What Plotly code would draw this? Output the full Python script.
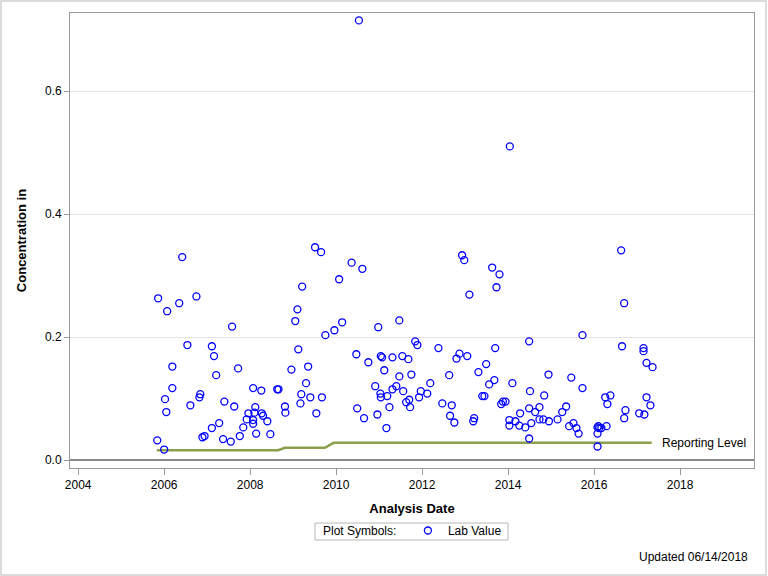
import plotly.graph_objects as go

# Lab values: analysis date (decimal year) and concentration
sample_year = [
    2005.84, 2005.86, 2006.00, 2006.02, 2006.05, 2006.07, 2006.19, 2006.19, 2006.35, 2006.42,
    2006.54, 2006.61, 2006.75, 2006.82, 2006.84, 2006.89, 2006.94, 2007.11, 2007.11, 2007.16,
    2007.21, 2007.28, 2007.37, 2007.40, 2007.55, 2007.58, 2007.63, 2007.72, 2007.76, 2007.84,
    2007.92, 2007.96, 2008.07, 2008.07, 2008.07, 2008.10, 2008.12, 2008.14, 2008.26, 2008.27,
    2008.30, 2008.40, 2008.47, 2008.63, 2008.66, 2008.81, 2008.82, 2008.96, 2009.05, 2009.10,
    2009.12, 2009.17, 2009.19, 2009.21, 2009.30, 2009.35, 2009.40, 2009.51, 2009.54, 2009.65,
    2009.67, 2009.75, 2009.96, 2010.07, 2010.14, 2010.36, 2010.47, 2010.49, 2010.53, 2010.61,
    2010.65, 2010.75, 2010.91, 2010.96, 2010.98, 2011.03, 2011.04, 2011.07, 2011.04, 2011.12,
    2011.17, 2011.19, 2011.24, 2011.31, 2011.31, 2011.40, 2011.47, 2011.47, 2011.54, 2011.56,
    2011.63, 2011.68, 2011.70, 2011.72, 2011.75, 2011.84, 2011.89, 2011.93, 2011.97, 2012.12,
    2012.19, 2012.38, 2012.47, 2012.63, 2012.65, 2012.69, 2012.75, 2012.80, 2012.87, 2012.93,
    2012.98, 2013.05, 2013.10, 2013.19, 2013.21, 2013.31, 2013.40, 2013.45, 2013.49, 2013.56,
    2013.63, 2013.68, 2013.70, 2013.73, 2013.80, 2013.84, 2013.88, 2013.94, 2014.03, 2014.03,
    2014.04, 2014.10, 2014.17, 2014.26, 2014.28, 2014.40, 2014.49, 2014.49, 2014.49, 2014.51,
    2014.54, 2014.63, 2014.73, 2014.73, 2014.82, 2014.84, 2014.94, 2014.95, 2015.15, 2015.26,
    2015.35, 2015.42, 2015.47, 2015.52, 2015.59, 2015.64, 2015.73, 2015.73, 2016.08, 2016.08,
    2016.08, 2016.10, 2016.12, 2016.17, 2016.26, 2016.29, 2016.31, 2016.38, 2016.63, 2016.65,
    2016.70, 2016.70, 2016.73, 2017.05, 2017.15, 2017.15, 2017.17, 2017.22, 2017.22, 2017.31,
    2017.36,
]
sample_value = [
    0.032, 0.263, 0.017, 0.099, 0.078, 0.242, 0.152, 0.117, 0.255, 0.330,
    0.187, 0.089, 0.266, 0.102, 0.107, 0.037, 0.039, 0.185, 0.052, 0.169,
    0.138, 0.060, 0.034, 0.095, 0.030, 0.217, 0.087, 0.149, 0.039, 0.053,
    0.066, 0.076, 0.117, 0.065, 0.059, 0.077, 0.086, 0.043, 0.113, 0.076,
    0.072, 0.063, 0.042, 0.115, 0.115, 0.087, 0.077, 0.147, 0.226, 0.245,
    0.180, 0.092, 0.107, 0.282, 0.125, 0.152, 0.102, 0.346, 0.076, 0.338,
    0.102, 0.203, 0.211, 0.294, 0.224, 0.321, 0.172, 0.084, 0.715, 0.311,
    0.068, 0.159, 0.120, 0.074, 0.216, 0.108, 0.169, 0.167, 0.102, 0.146,
    0.052, 0.104, 0.086, 0.167, 0.115, 0.120, 0.227, 0.136, 0.169, 0.112,
    0.094, 0.164, 0.098, 0.086, 0.139, 0.193, 0.187, 0.102, 0.112, 0.108,
    0.125, 0.182, 0.092, 0.138, 0.072, 0.089, 0.061, 0.165, 0.173, 0.333,
    0.325, 0.169, 0.269, 0.063, 0.068, 0.143, 0.104, 0.104, 0.156, 0.123,
    0.313, 0.130, 0.182, 0.281, 0.302, 0.091, 0.095, 0.095, 0.065, 0.056,
    0.510, 0.125, 0.063, 0.056, 0.076, 0.053, 0.193, 0.084, 0.035, 0.112,
    0.060, 0.078, 0.086, 0.066, 0.066, 0.105, 0.139, 0.063, 0.066, 0.078,
    0.087, 0.055, 0.134, 0.060, 0.052, 0.043, 0.203, 0.117, 0.053, 0.043,
    0.022, 0.055, 0.052, 0.052, 0.102, 0.055, 0.091, 0.105, 0.341, 0.185,
    0.255, 0.068, 0.081, 0.076, 0.182, 0.177, 0.074, 0.158, 0.102, 0.089,
    0.151,
]

# Reporting level step line
report_year = [2005.83, 2008.65, 2008.81, 2009.74, 2009.94, 2017.34]
report_value = [0.016, 0.016, 0.020, 0.020, 0.028, 0.028]

x_ticks = [2004, 2006, 2008, 2010, 2012, 2014, 2016, 2018]
y_ticks = [0.0, 0.2, 0.4, 0.6]

FONT = "Liberation Sans, Arial, sans-serif"

fig = go.Figure()

fig.add_trace(go.Scatter(
    x=report_year, y=report_value, mode="lines",
    line=dict(color="#8BA04A", width=2.5),
    showlegend=False, hoverinfo="skip",
))

fig.add_trace(go.Scatter(
    x=sample_year, y=sample_value, mode="markers", name="Lab Value",
    marker=dict(symbol="circle-open", size=7, color="#0000FF",
                line=dict(width=1.3, color="#0000FF")),
))

fig.add_annotation(
    x=report_year[-1], y=report_value[-1], text="Reporting Level",
    showarrow=False, xanchor="left", yanchor="middle", xshift=8,
    font=dict(family=FONT, size=12, color="#000000"),
)

fig.add_annotation(
    xref="paper", yref="paper", x=0.994, y=-0.1956, text="Updated 06/14/2018",
    showarrow=False, xanchor="right", yanchor="middle",
    font=dict(family=FONT, size=12, color="#000000"),
)

fig.add_annotation(
    xref="paper", yref="paper", x=0.367, y=-0.1385, text="Plot Symbols:",
    showarrow=False, xanchor="left", yanchor="middle",
    font=dict(family=FONT, size=12, color="#000000"),
)

# outer border around the whole image
fig.add_shape(
    type="rect", xref="paper", yref="paper",
    x0=-0.1009, x1=1.0175, y0=-0.2352, y1=1.0264,
    line=dict(color="#D0D0D0", width=1.5), layer="below",
)

# legend frame
fig.add_shape(
    type="rect", xref="paper", yref="paper",
    x0=0.3582, x1=0.6404, y0=-0.1582, y1=-0.1209,
    line=dict(color="#B8B8B8", width=1), layer="below",
)

fig.update_layout(
    width=768, height=576,
    margin=dict(l=70, r=14, t=13, b=108),
    paper_bgcolor="white", plot_bgcolor="white",
    font=dict(family=FONT, size=12, color="#000000"),
    legend=dict(
        orientation="h", x=0.494, xanchor="left", y=-0.1055, yanchor="top",
        borderwidth=0, bgcolor="rgba(0,0,0,0)",
        font=dict(family=FONT, size=12),
        itemwidth=30,
    ),
    showlegend=True,
)

fig.update_xaxes(
    range=[2003.81, 2019.72], tickvals=x_ticks, tickformat="d",
    showgrid=False, zeroline=False,
    showline=True, linecolor="#9A9A9A", linewidth=1, mirror=True,
    ticks="outside", ticklen=6, tickcolor="#9A9A9A",
    title=dict(text="<b>Analysis Date</b>", font=dict(family=FONT, size=13), standoff=12),
    tickfont=dict(family=FONT, size=12),
)
fig.update_yaxes(
    range=[-0.013, 0.727], tickvals=y_ticks, tickformat=".1f",
    showgrid=True, gridcolor="#E4E4E4", gridwidth=1,
    zeroline=True, zerolinecolor="#8A8A8A", zerolinewidth=2,
    showline=True, linecolor="#9A9A9A", linewidth=1, mirror=True,
    ticks="outside", ticklen=5, tickcolor="#9A9A9A",
    title=dict(text="<b>Concentration in</b>", font=dict(family=FONT, size=13), standoff=15),
    tickfont=dict(family=FONT, size=12),
)

fig.write_html("out.html")
